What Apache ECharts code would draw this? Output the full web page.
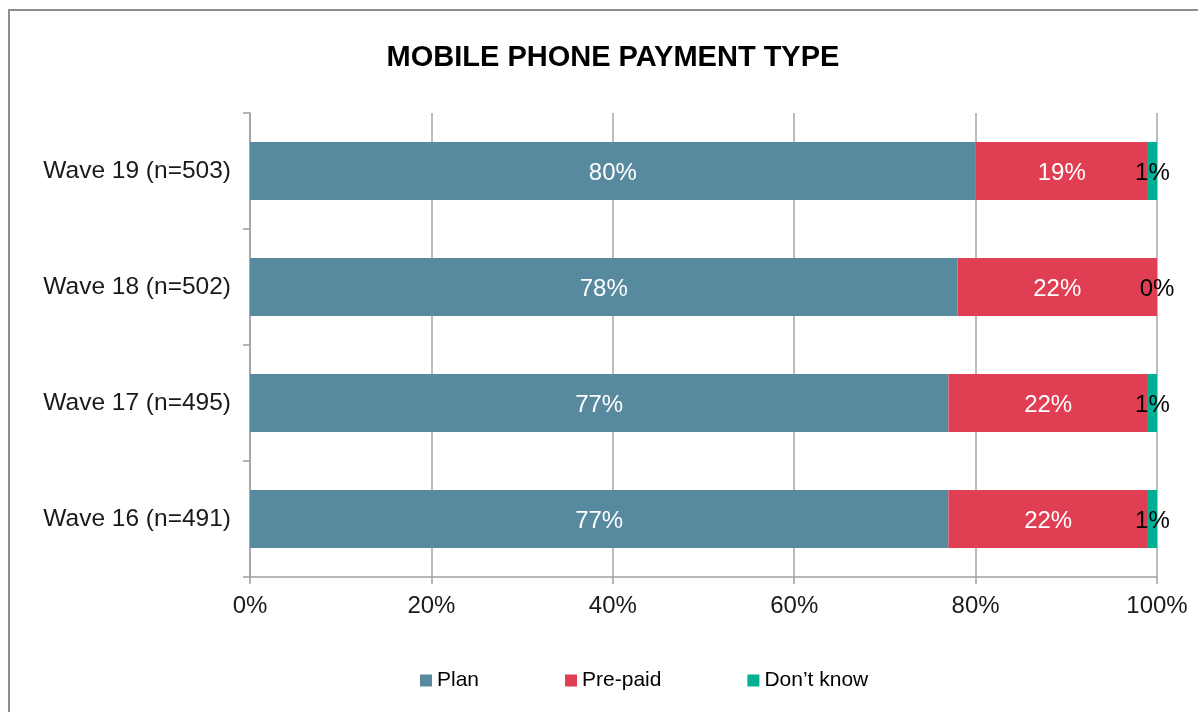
<!DOCTYPE html>
<html>
<head>
<meta charset="utf-8">
<title>Mobile phone payment type</title>
<script src="https://cdn.jsdelivr.net/npm/echarts@6/dist/echarts.min.js"></script>
<style>
  html, body { margin: 0; padding: 0; background: #ffffff; }
  #chart { width: 1198px; height: 712px; }
</style>
</head>
<body>
<div id="chart"></div>
<script>
// Survey waves, top to bottom as drawn
const waves = ['Wave 19 (n=503)', 'Wave 18 (n=502)', 'Wave 17 (n=495)', 'Wave 16 (n=491)'];
// Share of respondents (%) by payment type
const plan = [80, 78, 77, 77];
const prePaid = [19, 22, 22, 22];
const dontKnow = [1, 0, 1, 1];
const seriesNames = ['Plan', 'Pre-paid', 'Don\u2019t know'];
const xTicks = { min: 0, max: 100, step: 20 };

const FONT = '"Liberation Sans", Arial, sans-serif';
const colors = ['#588a9f', '#e03e52', '#00b094'];

function barSeries(name, values, color, labelColor) {
  return {
    name: name,
    type: 'bar',
    stack: 'total',
    barWidth: '50%',
    data: values,
    itemStyle: { color: color },
    label: {
      show: true,
      position: 'inside',
      formatter: '{c}%',
      color: labelColor,
      fontFamily: FONT,
      fontSize: 24,
      offset: [0, 2]
    },
    emphasis: { disabled: true }
  };
}

const chart = echarts.init(document.getElementById('chart'), null, { renderer: 'canvas' });
chart.setOption({
  animation: false,
  backgroundColor: '#ffffff',
  title: {
    text: 'MOBILE PHONE PAYMENT TYPE',
    left: 608,
    textAlign: 'center',
    top: 38,
    textStyle: { fontFamily: FONT, fontSize: 29, fontWeight: 'bold', color: '#000000' }
  },
  graphic: [{
    type: 'rect',
    shape: { x: 9, y: 10, width: 1400, height: 900 },
    style: { fill: 'none', stroke: '#8e8e8e', lineWidth: 2 },
    silent: true,
    z: -1
  }],
  legend: {
    data: seriesNames,
    left: 415,
    top: 665,
    itemWidth: 12,
    itemHeight: 12,
    itemGap: 86,
    icon: 'rect',
    textStyle: { fontFamily: FONT, fontSize: 21, color: '#000000' }
  },
  grid: { left: 250, right: 41, top: 113, bottom: 135, containLabel: false },
  xAxis: {
    type: 'value',
    min: xTicks.min,
    max: xTicks.max,
    interval: xTicks.step,
    axisLine: { show: true, lineStyle: { color: '#a0a0a0', width: 1.5 } },
    axisTick: { show: true, length: 7, lineStyle: { color: '#a0a0a0', width: 1.5 } },
    splitLine: { show: true, lineStyle: { color: '#a6a6a6', width: 1.5 } },
    axisLabel: {
      formatter: '{value}%',
      margin: 17,
      fontFamily: FONT,
      fontSize: 24,
      color: '#1a1a1a'
    }
  },
  yAxis: {
    type: 'category',
    data: waves,
    inverse: true,
    axisLine: { show: true, lineStyle: { color: '#a0a0a0', width: 1.5 } },
    axisTick: { show: true, length: 7, lineStyle: { color: '#a0a0a0', width: 1.5 } },
    splitLine: { show: false },
    axisLabel: {
      margin: 19,
      fontFamily: FONT,
      fontSize: 24.5,
      color: '#1a1a1a'
    }
  },
  series: [
    barSeries(seriesNames[0], plan, colors[0], '#ffffff'),
    barSeries(seriesNames[1], prePaid, colors[1], '#ffffff'),
    barSeries(seriesNames[2], dontKnow, colors[2], '#000000')
  ]
});
</script>
</body>
</html>
